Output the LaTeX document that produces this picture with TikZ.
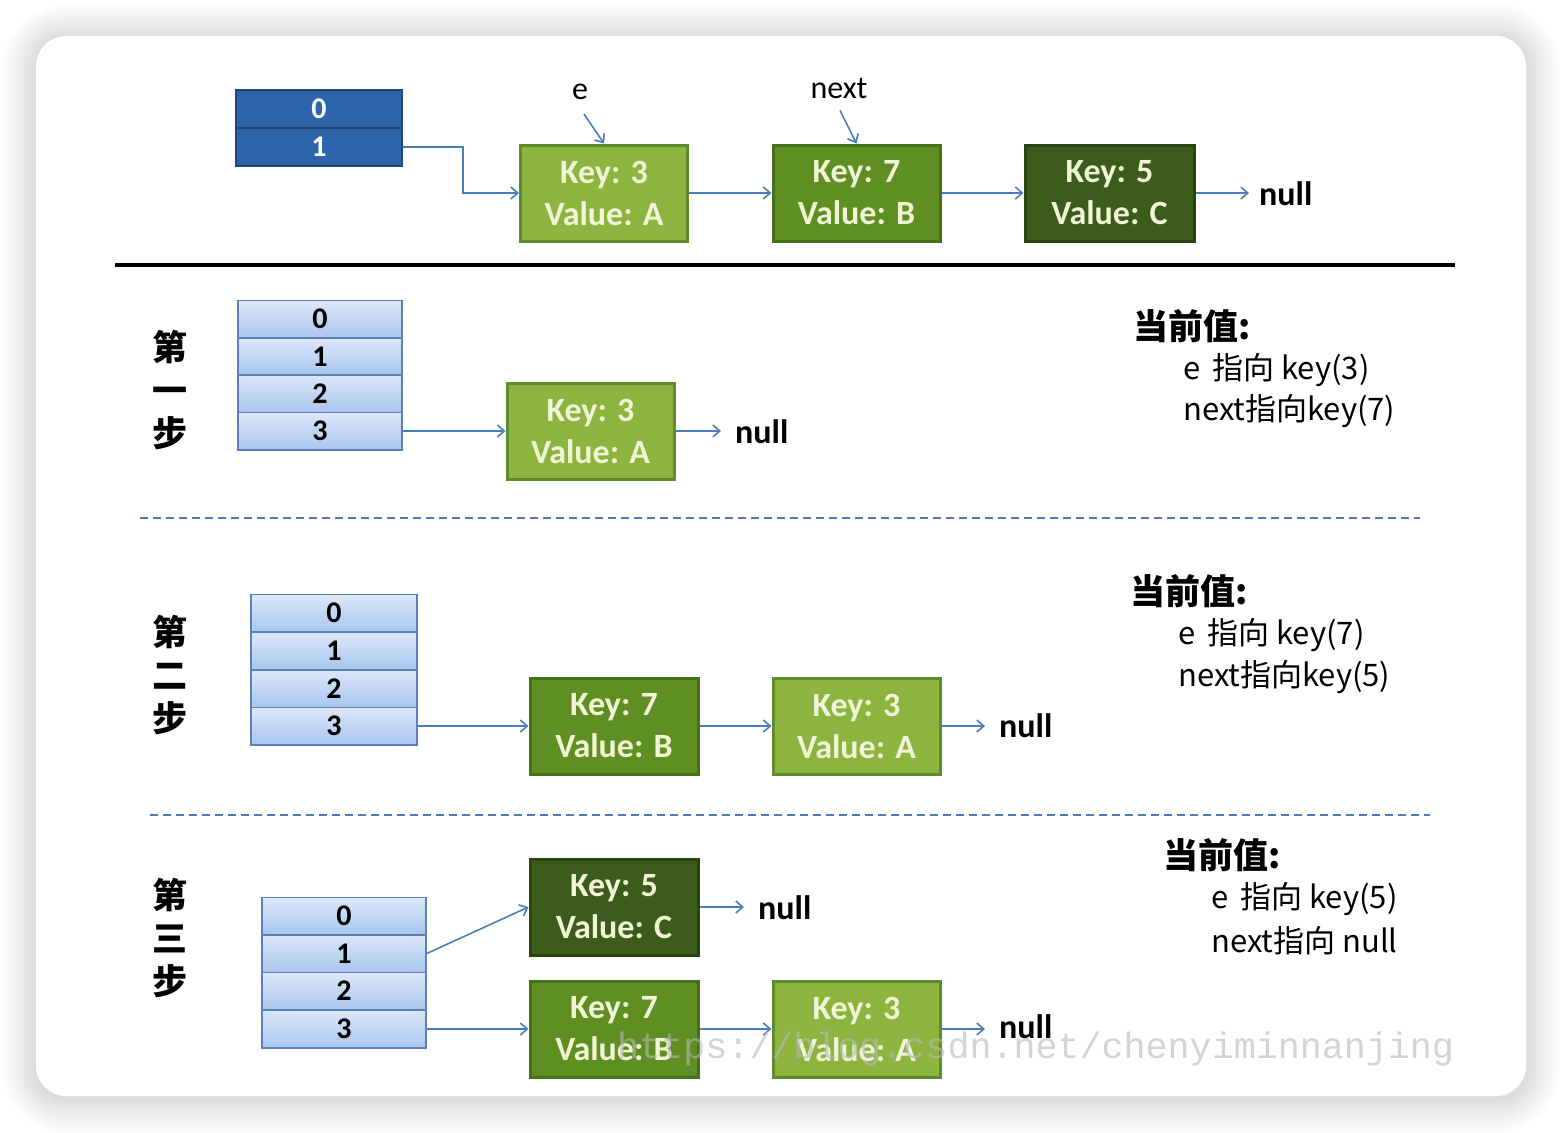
\documentclass[tikz,border=0pt]{standalone}
\usepackage{fontspec}
\setmainfont{Carlito}
\newfontfamily\cjk{Noto Sans CJK SC}
\newfontfamily\wm{Liberation Mono}
\usetikzlibrary{arrows.meta}
\definecolor{arrblue}{HTML}{4A7EBB}
\definecolor{dkblue}{HTML}{2E64AA}
\definecolor{dkblueb}{HTML}{1E4677}
\definecolor{ltbluetop}{HTML}{DCE8F9}
\definecolor{ltbluebot}{HTML}{A8C5EE}
\definecolor{ltblueb}{HTML}{5B80B8}
\definecolor{lgfill}{HTML}{8CB43F}
\definecolor{lgbord}{HTML}{5F8C2C}
\definecolor{mgfill}{HTML}{5F8F22}
\definecolor{mgbord}{HTML}{46711C}
\definecolor{dgfill}{HTML}{3B5C1B}
\definecolor{dgbord}{HTML}{2A4512}
\definecolor{paletxt}{HTML}{F1F5D6}
\definecolor{wmgray}{HTML}{B8B8B8}
\tikzset{
  dcell/.style={draw=dkblueb, fill=dkblue, line width=2pt, minimum width=166pt, minimum height=38pt, inner sep=0pt, text=white, font=\bfseries\fontsize{30}{30}\selectfont},
  lcell/.style={draw=ltblueb, top color=ltbluetop, bottom color=ltbluebot, line width=1.5pt, minimum width=164pt, minimum height=37.5pt, inner sep=0pt, text=black, font=\bfseries\fontsize{30}{30}\selectfont},
  entry/.style={line width=3pt, minimum width=167pt, minimum height=96pt, inner sep=0pt, align=center, text=paletxt, font=\bfseries\fontsize{34}{42}\selectfont},
  lg/.style={entry, draw=lgbord, fill=lgfill},
  mg/.style={entry, draw=mgbord, fill=mgfill},
  dg/.style={entry, draw=dgbord, fill=dgfill},
  nulltxt/.style={font=\bfseries\fontsize{34}{34}\selectfont, inner sep=0pt, anchor=west},
  arr/.style={draw=arrblue, line width=1.6pt, -{Straight Barb[length=7pt,width=12pt,line width=1.6pt]}},
  steplbl/.style={align=center, font=\cjk\bfseries\fontsize{35}{43}\selectfont, inner sep=0pt},
  curhead/.style={anchor=west, inner sep=0pt, font=\cjk\bfseries\fontsize{35}{35}\selectfont},
  curline/.style={anchor=west, inner sep=0pt, font=\cjk\fontsize{31}{31}\selectfont},
  ptrlbl/.style={font=\fontsize{32}{32}\selectfont, inner sep=0pt},
  sepdash/.style={draw=arrblue, line width=1.6pt, dash pattern=on 8pt off 5pt}
}
\begin{document}
\begin{tikzpicture}[x=1pt,y=-1pt]
\useasboundingbox (0,0) rectangle (1562,1132);
\fill[white] (0,0) rectangle (1562,1132);
% soft shadow of the card
\foreach \i [evaluate=\i as \r using 30+2*\i, evaluate=\i as \d using 2*\i] in {17,16,...,1}
  \fill[black, opacity=0.009, rounded corners=\r pt] (36-\d,38-\d) rectangle (1526+\d,1099+\d);
\fill[white, rounded corners=30pt] (36,36) rectangle (1526,1096);

% ---- top: original state
\node[dcell] (t0) at (319,109) {0};
\node[dcell] (t1) at (319,147) {1};
\node[lg] (ta) at (604,193) {Key: 3\\Value: A};
\node[mg] (tb) at (856.5,193) {Key: 7\\Value: B};
\node[dg, minimum width=169pt] (tc) at (1109.5,193) {Key: 5\\Value: C};
\node[nulltxt] (tn) at (1259,194) {null};
\draw[arr] (t1.east) -- ++(60,0) |- (ta.west);
\draw[arr] (ta) -- (tb);
\draw[arr] (tb) -- (tc);
\draw[arr] (tc.east) -- ([xshift=-10pt]tc.east -| tn.west);
\node[ptrlbl] (pe) at (580,92) {e};
\node[ptrlbl] (pn) at (839,88) {next};
\draw[arr] ([xshift=4pt,yshift=-14pt]pe.south) -- (ta.north);
\draw[arr] ([xshift=1pt,yshift=-12pt]pn.south) -- (tb.north);

\draw[line width=4pt] (115,265) -- (1455,265);

% ---- step 1
\node[steplbl] (s1) at (170,390) {第\\一\\步};
\node[lcell] (a10) at (320,319) {0};
\node[lcell] (a11) at (320,356.5) {1};
\node[lcell] (a12) at (320,393.5) {2};
\node[lcell] (a13) at (320,431) {3};
\node[lg] (e11) at (590.5,431) {Key: 3\\Value: A};
\node[nulltxt] (n11) at (735,432) {null};
\draw[arr] (a13.east) -- (e11.west);
\draw[arr] (e11.east) -- ([xshift=-14pt]e11.east -| n11.west);
\node[curhead] (c1h) at (1133,326) {当前值:};
\node[curline] (c1a) at (1183,370) {e \,指向 key(3)};
\node[curline] (c1b) at (1183,411) {next指向key(7)};

\draw[sepdash] (140,518) -- (1420,518);

% ---- step 2
\node[steplbl] (s2) at (170,675) {第\\二\\步};
\node[lcell, minimum width=166pt] (a20) at (334,613) {0};
\node[lcell, minimum width=166pt] (a21) at (334,651) {1};
\node[lcell, minimum width=166pt] (a22) at (334,688.5) {2};
\node[lcell, minimum width=166pt] (a23) at (334,726) {3};
\node[mg, minimum width=168pt] (e21) at (614,726) {Key: 7\\Value: B};
\node[lg] (e22) at (856.5,726) {Key: 3\\Value: A};
\node[nulltxt] (n21) at (999,726) {null};
\draw[arr] (a23.east) -- (e21.west);
\draw[arr] (e21) -- (e22);
\draw[arr] (e22.east) -- ([xshift=-14pt]e22.east -| n21.west);
\node[curhead] (c2h) at (1130,591) {当前值:};
\node[curline] (c2a) at (1178,635) {e \,指向 key(7)};
\node[curline] (c2b) at (1178,677) {next指向key(5)};

\draw[sepdash] (150,815) -- (1430,815);

% ---- step 3
\node[steplbl] (s3) at (170,938) {第\\三\\步};
\node[lcell] (a30) at (344,916) {0};
\node[lcell] (a31) at (344,953.5) {1};
\node[lcell] (a32) at (344,991) {2};
\node[lcell] (a33) at (344,1029) {3};
\node[dg, minimum width=168pt] (e31) at (614,907) {Key: 5\\Value: C};
\node[mg, minimum width=168pt] (e32) at (614,1029) {Key: 7\\Value: B};
\node[lg] (e33) at (856.5,1029) {Key: 3\\Value: A};
\node[nulltxt] (n31) at (758,908) {null};
\draw[arr] (a31.east) -- (e31.west);
\draw[arr] (e31.east) -- ([xshift=-14pt]e31.east -| n31.west);
\draw[arr] (a33.east) -- (e32.west);
\draw[arr] (e32) -- (e33);
\node[curhead] (c3h) at (1163,855) {当前值:};
\node[curline] (c3a) at (1211,899) {e \,指向 key(5)};
\node[curline] (c3b) at (1211,941) {next指向 null};

% ---- watermark (semi-transparent, over the boxes)
\node[anchor=base west, inner sep=0pt, text=wmgray, opacity=0.6, font=\wm\fontsize{36.7}{36.7}\selectfont] (wmk) at (617,1058) {https://blog.csdn.net/chenyiminnanjing};

\node[nulltxt] (n32) at (999,1027) {null};
\draw[arr] (e33.east) -- ([xshift=-14pt]e33.east -| n32.west);
\end{tikzpicture}
\end{document}
